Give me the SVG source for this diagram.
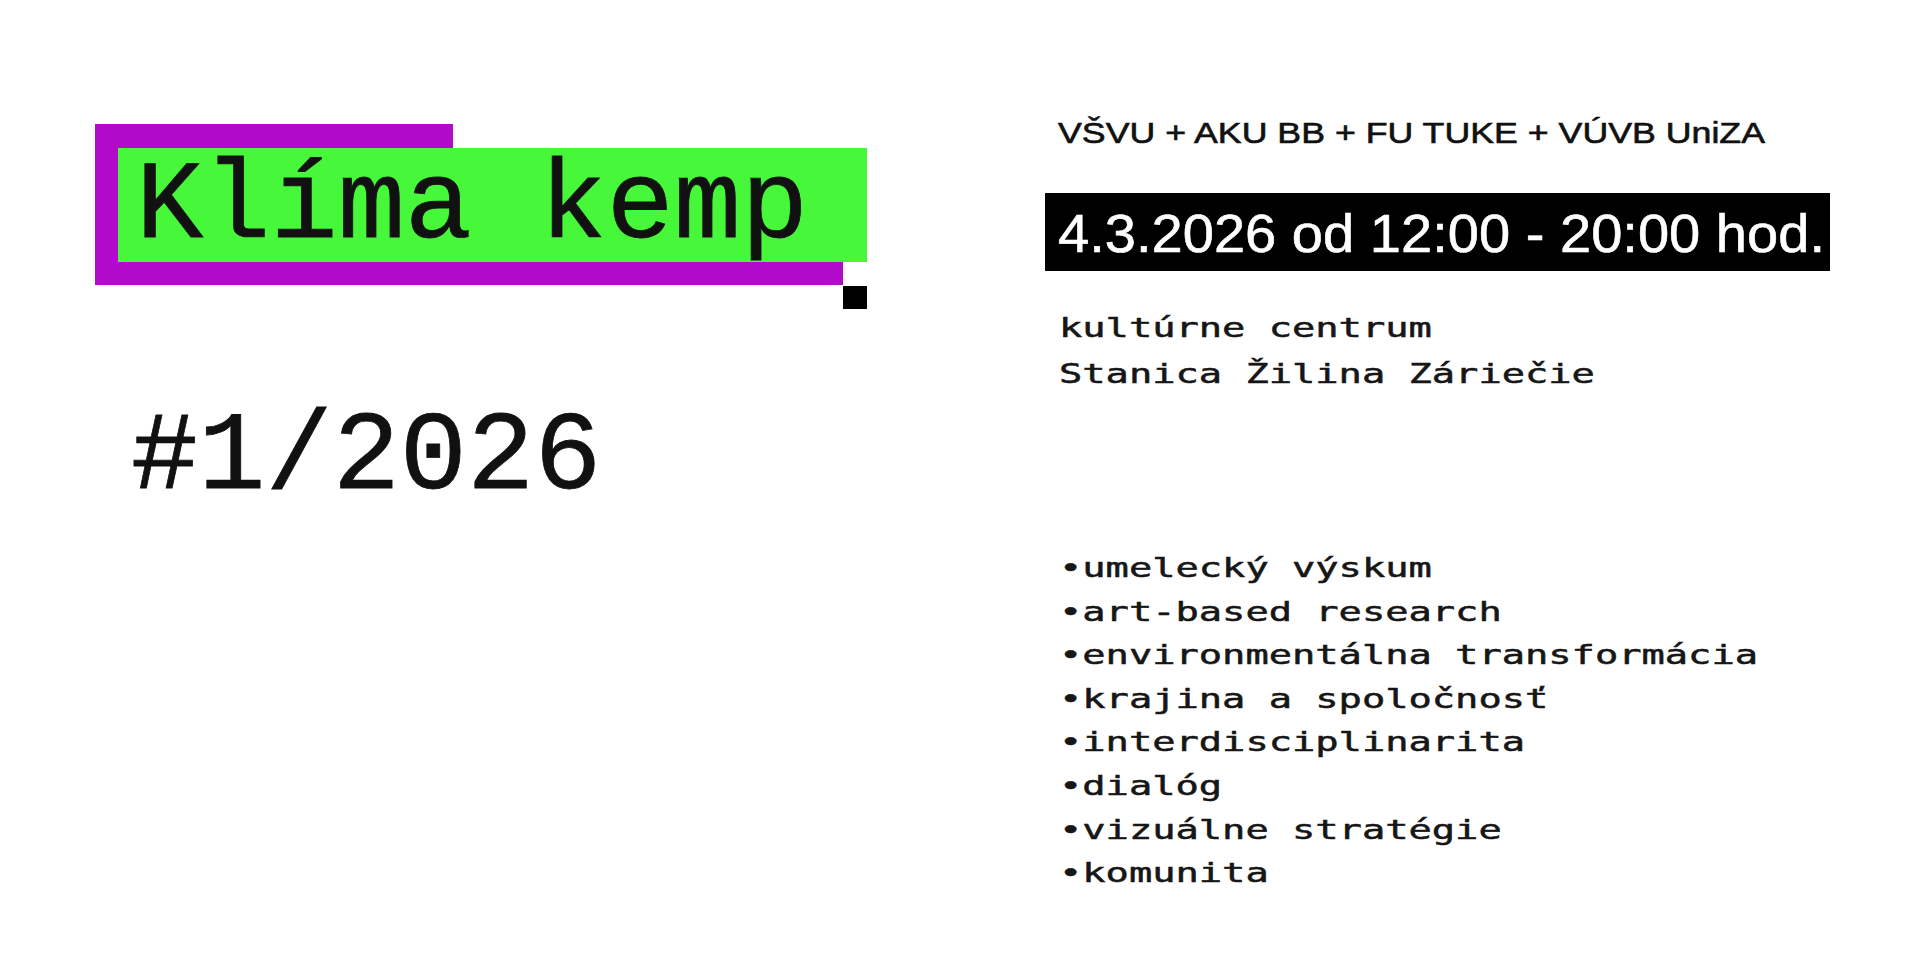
<svg xmlns="http://www.w3.org/2000/svg" width="1920" height="960" viewBox="0 0 1920 960">
<style>
.mono{font-family:"Liberation Mono","DejaVu Sans Mono",monospace;fill:#111}
.big{font-size:112px;stroke:#111;stroke-width:0.8}
.small{font-family:"DejaVu Sans Mono","Liberation Mono",monospace;font-size:27px;fill:#161616;stroke:#161616;stroke-width:0.5}
.sans{font-family:"Liberation Sans",Arial,sans-serif}
</style>
<rect width="1920" height="960" fill="#ffffff"/>
<g id="title">
<polygon points="95,124 453,124 453,148 843,148 843,285 95,285" fill="#B10BC9"/>
<rect x="118" y="148" width="749" height="114" fill="#47F83A"/>
<rect x="843" y="286" width="24" height="23" fill="#000"/>
<text class="mono big" x="136" y="237">Klíma kemp</text>
</g>
<g id="issue">
<text class="mono big" x="131" y="488">#1/2026</text>
</g>
<g id="partners">
<text class="sans" x="1058" y="143" font-size="29" fill="#111" stroke="#111" stroke-width="0.6" textLength="707" lengthAdjust="spacingAndGlyphs">VŠVU + AKU BB + FU TUKE + VÚVB UniZA</text>
</g>
<g id="date">
<rect x="1045" y="193" width="785" height="78" fill="#000"/>
<text class="sans" x="1058" y="252" font-size="54" fill="#fff" stroke="#fff" stroke-width="0.6" textLength="767" lengthAdjust="spacingAndGlyphs">4.3.2026 od 12:00 - 20:00 hod.</text>
</g>
<g id="venue">
<text class="small" x="1059" y="337" textLength="372.8" lengthAdjust="spacingAndGlyphs">kultúrne centrum</text>
<text class="small" x="1059" y="383" textLength="535.9" lengthAdjust="spacingAndGlyphs">Stanica Žilina Záriečie</text>
</g>
<g id="topics">
<text class="small" x="1059" y="577" textLength="372.8" lengthAdjust="spacingAndGlyphs">•umelecký výskum</text>
<text class="small" x="1059" y="620.6" textLength="442.7" lengthAdjust="spacingAndGlyphs">•art-based research</text>
<text class="small" x="1059" y="664.2" textLength="699" lengthAdjust="spacingAndGlyphs">•environmentálna transformácia</text>
<text class="small" x="1059" y="707.8" textLength="489.3" lengthAdjust="spacingAndGlyphs">•krajina a spoločnosť</text>
<text class="small" x="1059" y="751.4" textLength="466" lengthAdjust="spacingAndGlyphs">•interdisciplinarita</text>
<text class="small" x="1059" y="795" textLength="163.1" lengthAdjust="spacingAndGlyphs">•dialóg</text>
<text class="small" x="1059" y="838.6" textLength="442.7" lengthAdjust="spacingAndGlyphs">•vizuálne stratégie</text>
<text class="small" x="1059" y="882.2" textLength="209.7" lengthAdjust="spacingAndGlyphs">•komunita</text>
</g>
<g id="connectors"/>
</svg>
